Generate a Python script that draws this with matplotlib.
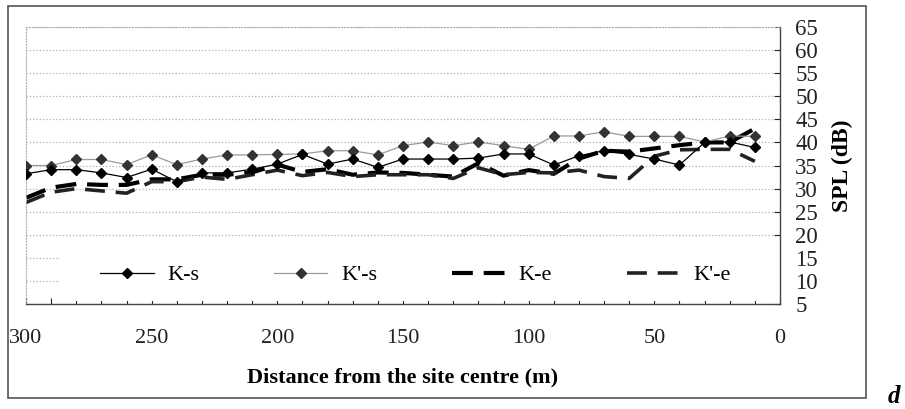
import matplotlib
matplotlib.use("Agg")
import matplotlib.pyplot as plt
from matplotlib.patches import Rectangle
from matplotlib.ticker import MultipleLocator

plt.rcParams["font.family"] = ["Liberation Serif", "DejaVu Serif"]

# distance from the site centre (m)
dist = [300, 290, 280, 270, 260, 250, 240, 230, 220, 210,
        200, 190, 180, 170, 160, 150, 140, 130, 120, 110,
        100, 90, 80, 70, 60, 50, 40, 30, 20, 10]

k_s = [33.2, 34.1, 34.1, 33.4, 32.4, 34.2, 31.5, 33.4, 33.4, 34.2,
       35.3, 37.4, 35.3, 36.4, 34.6, 36.4, 36.4, 36.4, 36.6, 37.5,
       37.5, 35.1, 37.1, 38.2, 37.4, 36.4, 35.1, 40.0, 40.1, 38.9]

k2_s = [35.0, 35.0, 36.3, 36.3, 35.2, 37.3, 35.2, 36.4, 37.3, 37.3,
        37.4, 37.5, 38.2, 38.2, 37.3, 39.3, 40.1, 39.3, 40.1, 39.3,
        38.5, 41.4, 41.4, 42.3, 41.3, 41.3, 41.3, 40.1, 41.4, 41.3]

k_e = [28.0, 30.2, 31.0, 30.8, 30.8, 32.0, 32.0, 33.0, 33.0, 33.5,
       35.2, 33.6, 34.2, 33.0, 33.5, 33.4, 33.0, 32.6, 35.5, 32.8,
       34.0, 33.2, 36.5, 38.2, 38.0, 38.7, 39.4, 40.0, 40.0, 43.0]

k2_e = [27.0, 29.2, 30.0, 29.5, 29.0, 31.5, 31.5, 32.5, 32.0, 33.0,
        34.0, 32.8, 33.5, 32.6, 33.0, 33.0, 33.0, 32.2, 34.5, 33.0,
        33.5, 33.4, 34.0, 32.6, 32.2, 37.0, 38.4, 38.5, 38.5, 35.9]

fig = plt.figure(figsize=(9.05, 4.09), dpi=100)
ax = fig.add_axes([26 / 905, 1 - 304 / 409, 754 / 905, 277 / 409])

ax.plot(dist, k_s, color="black", lw=0.9, marker="D", ms=5.5, label="K-s", zorder=4)
ax.plot(dist, k2_s, color="#9a9a9a", lw=0.9, marker="D", ms=5, mfc="#333333",
        mec="#333333", label="K'-s", zorder=3)
ax.plot(dist, k_e, color="black", lw=3.0, dashes=(5, 2.6), label="K-e", zorder=2)
ax.plot(dist, k2_e, color="#222222", lw=2.6, dashes=(5.5, 3), label="K'-e", zorder=2)

ax.set_xlim(300, 0)
ax.set_ylim(5, 65)

ax.xaxis.set_major_locator(MultipleLocator(50))
ax.xaxis.set_minor_locator(MultipleLocator(10))
ax.yaxis.set_major_locator(MultipleLocator(5))
ax.yaxis.tick_right()
ax.yaxis.set_label_position("right")

ax.tick_params(axis="x", which="both", direction="in", length=4, width=0.8,
               pad=18, labelsize=16, colors="#222222")
ax.tick_params(axis="y", direction="in", length=4, width=0.8,
               pad=11, labelsize=16.5, colors="#222222")

ax.grid(axis="y", ls=":", color="#b0b0b0", lw=0.9)

for s in ["left", "top"]:
    ax.spines[s].set_linestyle(":")
    ax.spines[s].set_color("#b0b0b0")
for s in ["right", "bottom"]:
    ax.spines[s].set_color("#444444")
    ax.spines[s].set_linewidth(1.0)

ax.set_xlabel("Distance from the site centre (m)", fontsize=16, fontweight="bold",
              labelpad=14)
ax.set_ylabel("SPL (dB)", fontsize=17, fontweight="bold", labelpad=10)

# white area behind the legend hides the low gridlines
ax.add_patch(Rectangle((0.045, 0.012), 0.955, 0.2, transform=ax.transAxes,
                       facecolor="white", edgecolor="none", zorder=1.6))

ax.legend(loc="center left", bbox_to_anchor=(0.087, 0.104), ncol=4, frameon=False,
          fontsize=16, handlelength=2.4, handletextpad=0.62, columnspacing=3.35,
          borderaxespad=0)

# outer frame of the chart
fig.patches.append(Rectangle((8 / 905, 1 - 398 / 409), 858 / 905, 392 / 409,
                             transform=fig.transFigure, fill=False,
                             edgecolor="#555555", lw=1.2))

fig.text(888 / 905, 1 - 403 / 409, "d", fontsize=18, fontstyle="italic",
         fontweight="bold", va="baseline")

fig.savefig("out.png", dpi=100)
